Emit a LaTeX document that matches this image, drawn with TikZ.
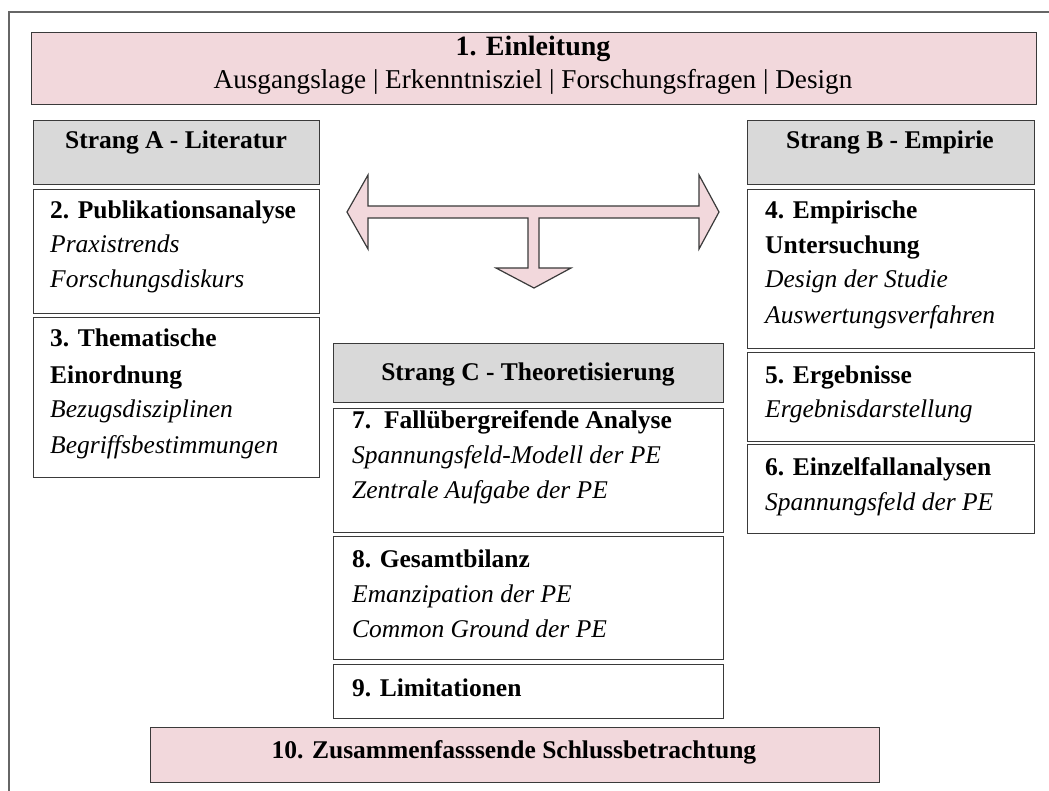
\documentclass[tikz,border=0pt]{standalone}
\usepackage{fontspec}
\setmainfont{Liberation Serif}
\definecolor{pinkfill}{HTML}{F2D8DC}
\definecolor{grayfill}{HTML}{D9D9D9}
\definecolor{edgecol}{HTML}{3A3A3A}
\definecolor{framecol}{HTML}{666666}
\begin{document}
\begin{tikzpicture}[x=1pt,y=-1pt,
  boxbase/.style={draw=edgecol, line width=1.3pt, rectangle, inner sep=0pt, anchor=north west},
  pinkbox/.style={boxbase, fill=pinkfill},
  graybox/.style={boxbase, fill=grayfill},
  whitebox/.style={boxbase, fill=white},
  txt/.style={inner sep=0pt, font=\fontsize{25.5}{30}\selectfont},
  lt/.style={txt, anchor=base west},
  ct/.style={txt, anchor=base}]
\useasboundingbox (0,0) rectangle (1049,791);
\fill[white] (0,0) rectangle (1049,791);
% outer frame (only left and top edges visible)
\draw[framecol, line width=2pt] (9,791) -- (9,12) -- (1049,12);

% boxes
\node[pinkbox, minimum width=1005pt, minimum height=72pt] (ein) at (31,32) {};
\node[graybox, minimum width=286pt, minimum height=64pt] (sA) at (33,120) {};
\node[graybox, minimum width=287pt, minimum height=64pt] (sB) at (747,120) {};
\node[whitebox, minimum width=286pt, minimum height=124pt] (b2) at (33,189) {};
\node[whitebox, minimum width=286pt, minimum height=160pt] (b3) at (33,317) {};
\node[whitebox, minimum width=287pt, minimum height=159pt] (b4) at (747,189) {};
\node[whitebox, minimum width=287pt, minimum height=89pt] (b5) at (747,352) {};
\node[whitebox, minimum width=287pt, minimum height=89pt] (b6) at (747,444) {};
\node[graybox, minimum width=390pt, minimum height=59pt] (sC) at (333,343) {};
\node[whitebox, minimum width=390pt, minimum height=124pt] (b7) at (333,408) {};
\node[whitebox, minimum width=390pt, minimum height=123pt] (b8) at (333,536) {};
\node[whitebox, minimum width=390pt, minimum height=54pt] (b9) at (333,664) {};
\node[pinkbox, minimum width=729pt, minimum height=55pt] (b10) at (150,727) {};

% arrow
\draw[edgecol, line width=1.2pt, fill=pinkfill, line join=miter]
  (347,212) -- (368,175) -- (368,206) -- (699,206) -- (699,175) -- (719,212)
  -- (699,249) -- (699,218) -- (539,218) -- (539,268) -- (571,268) -- (534,288)
  -- (496,268) -- (528,268) -- (528,218) -- (368,218) -- (368,249) -- cycle;

% texts
\node[ct, font=\fontsize{28}{30}\selectfont] (t1a) at (533,56) {\textbf{1. Einleitung}};
\node[ct, font=\fontsize{27.2}{30}\selectfont] (t1b) at (533,89) {Ausgangslage | Erkenntnisziel | Forschungsfragen | Design};
\node[ct] (tA) at (176,149) {\textbf{Strang A - Literatur}};
\node[ct] (tB) at (890,149) {\textbf{Strang B - Empirie}};
\node[ct] (tC) at (528,380) {\textbf{Strang C - Theoretisierung}};

\node[lt] (t2a) at (50,219) {\textbf{2. Publikationsanalyse}};
\node[lt] (t2b) at (50,253) {\textit{Praxistrends}};
\node[lt] (t2c) at (50,288) {\textit{Forschungsdiskurs}};

\node[lt] (t3a) at (50,347) {\textbf{3. Thematische}};
\node[lt] (t3b) at (50,383) {\textbf{Einordnung}};
\node[lt] (t3c) at (50,417) {\textit{Bezugsdisziplinen}};
\node[lt] (t3d) at (50,453) {\textit{Begriffsbestimmungen}};

\node[lt] (t4a) at (765,219) {\textbf{4. Empirische}};
\node[lt] (t4b) at (765,254) {\textbf{Untersuchung}};
\node[lt] (t4c) at (765,288) {\textit{Design der Studie}};
\node[lt] (t4d) at (765,324) {\textit{Auswertungsverfahren}};

\node[lt] (t5a) at (765,383) {\textbf{5. Ergebnisse}};
\node[lt] (t5b) at (765,417) {\textit{Ergebnisdarstellung}};

\node[lt] (t6a) at (765,475) {\textbf{6. Einzelfallanalysen}};
\node[lt] (t6b) at (765,510) {\textit{Spannungsfeld der PE}};

\node[lt] (t7a) at (352,428) {\textbf{7.\ \ Fallübergreifende Analyse}};
\node[lt] (t7b) at (352,463) {\textit{Spannungsfeld-Modell der PE}};
\node[lt] (t7c) at (352,498) {\textit{Zentrale Aufgabe der PE}};

\node[lt] (t8a) at (352,567) {\textbf{8. Gesamtbilanz}};
\node[lt] (t8b) at (352,602) {\textit{Emanzipation der PE}};
\node[lt] (t8c) at (352,637) {\textit{Common Ground der PE}};

\node[lt] (t9a) at (352,696) {\textbf{9. Limitationen}};

\node[ct] (t10) at (514,758) {\textbf{10. Zusammenfasssende Schlussbetrachtung}};
\end{tikzpicture}
\end{document}
